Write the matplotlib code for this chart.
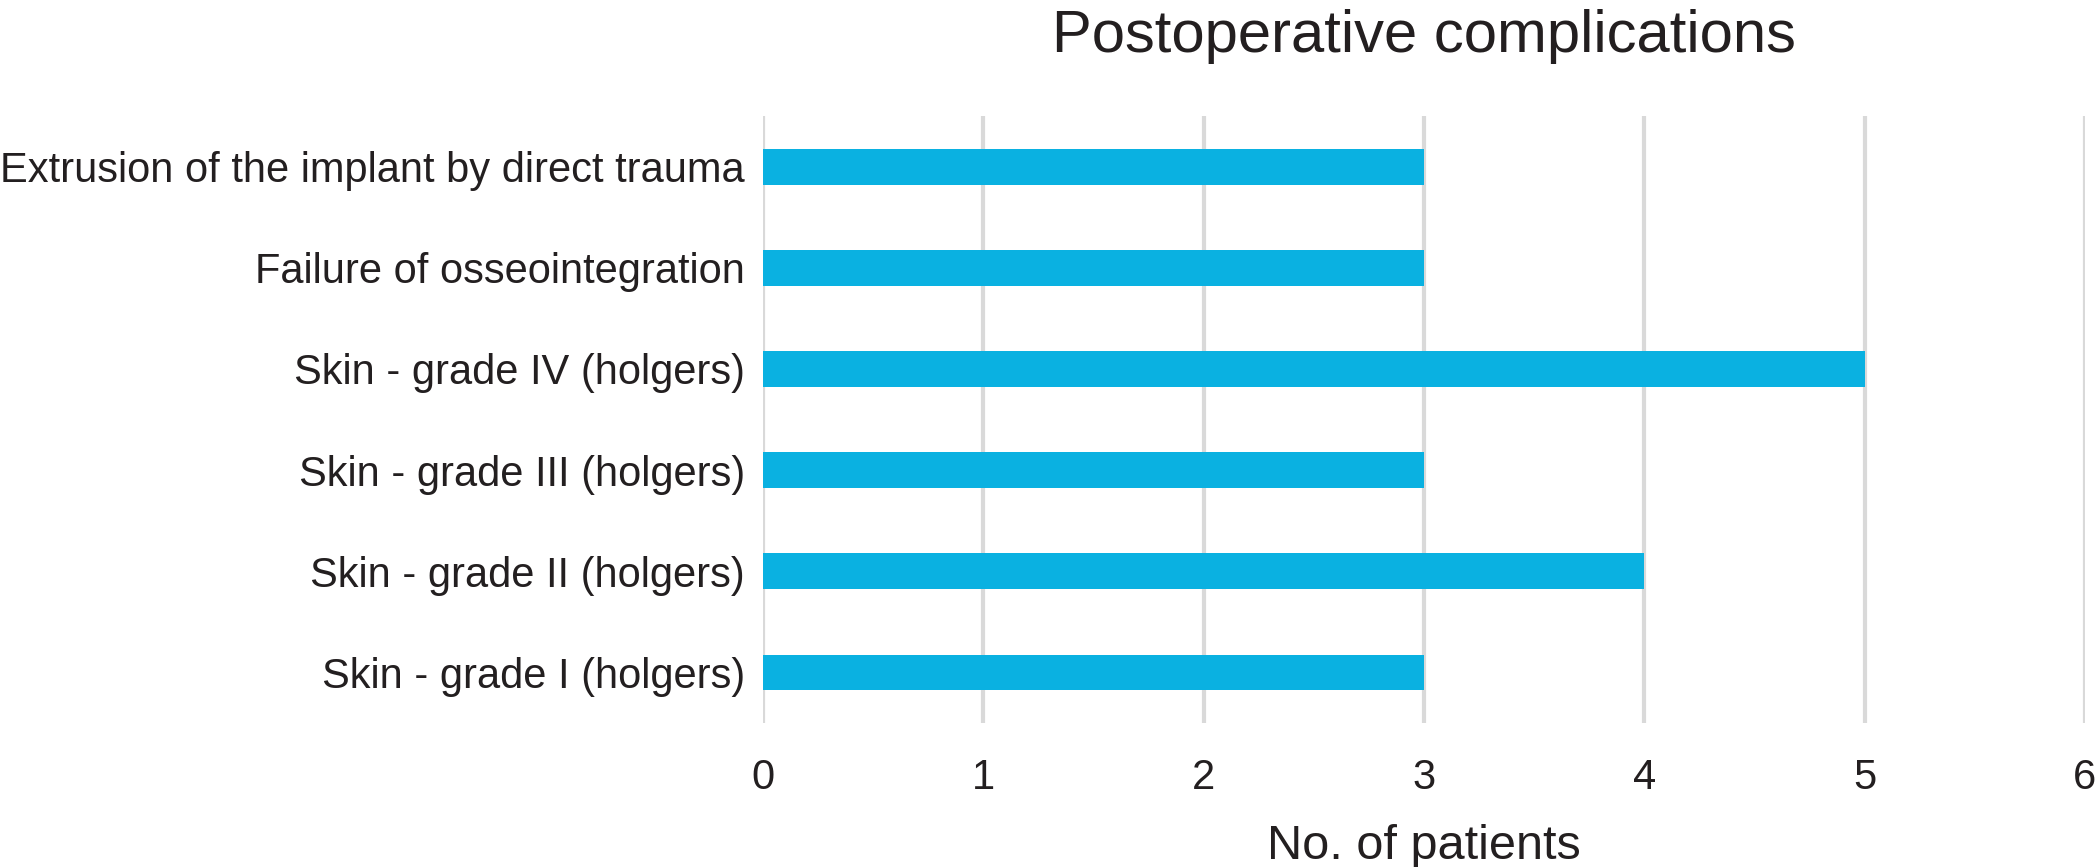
import matplotlib.pyplot as plt
import numpy as np

# ── Data ──────────────────────────────────────────────────────────────────────
categories = [
    "Extrusion of the implant by direct trauma",
    "Failure of osseointegration",
    "Skin - grade IV (holgers)",
    "Skin - grade III (holgers)",
    "Skin - grade II (holgers)",
    "Skin - grade I (holgers)",
]
patients = [3, 3, 5, 3, 4, 3]
x_ticks = [0, 1, 2, 3, 4, 5, 6]

plt.rcParams["font.family"] = ["Liberation Sans", "DejaVu Sans"]

fig, ax = plt.subplots(figsize=(20.99, 8.67), dpi=100)
fig.subplots_adjust(left=0.3635, right=0.9933, top=0.8662, bottom=0.166)

y = np.arange(len(categories))
ax.barh(y, patients, height=0.355, color="#0AB1E1", zorder=3)

ax.set_ylim(len(categories) - 0.5, -0.5)
ax.set_xlim(0, 6)
ax.set_xticks(x_ticks)
ax.set_yticks(y)
ax.set_yticklabels(categories)

ax.grid(axis="x", color="#D9D9D9", lw=3, zorder=0)
for s in ax.spines.values():
    s.set_visible(False)
ax.tick_params(axis="both", length=0, labelsize=30, colors="#231F20")
ax.tick_params(axis="x", pad=25)
ax.tick_params(axis="y", pad=13)

ax.set_title("Postoperative complications", fontsize=43, color="#231F20", pad=46)
ax.set_xlabel("No. of patients", fontsize=35, color="#231F20", labelpad=19)

plt.savefig("out.png", dpi=100)
